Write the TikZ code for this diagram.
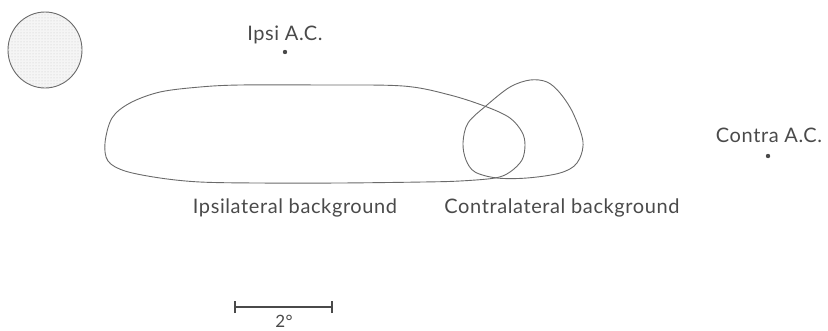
\documentclass[tikz,border=0pt]{standalone}
\usepackage{fontspec}
\setmainfont{Lato}[LetterSpace=3]
\usetikzlibrary{patterns}
\definecolor{ink}{HTML}{6A6A6A}
\definecolor{txt}{HTML}{4A4A4A}
\tikzset{
  outline/.style={draw=ink, line width=0.9pt},
  lbl/.style={text=txt, font=\fontsize{20}{23}\selectfont, inner sep=0pt},
  acdot/.style={circle, fill=txt, inner sep=0pt, minimum size=4.4pt},
  bar/.style={draw=txt, line width=1.3pt}
}
\begin{document}
\begin{tikzpicture}[x=1pt,y=-1pt]
\useasboundingbox (0,0) rectangle (828,330);
% stippled field
\path[fill=gray!8] (45,50) ellipse [x radius=37, y radius=38];
\path[pattern=dots, pattern color=gray!45] (45,50) ellipse [x radius=37, y radius=38];
\draw[outline] (45,50) ellipse [x radius=37, y radius=38];
% ipsilateral background
\draw[outline] plot[smooth cycle, tension=0.55] coordinates {
 (105,143) (112,118) (130,103) (160,92) (200,87) (240,85) (320,85) (403,86)
 (450,95) (487,107) (510,118) (522,132) (525,145) (522,160) (510,172)
 (495,178) (460,181) (423,182) (340,183) (257,183) (200,182) (160,178)
 (125,171) (108,161)};
% contralateral background
\draw[outline] plot[smooth cycle, tension=0.55] coordinates {
 (530,80) (547,82) (560,93) (573,113) (583,142) (577,163) (560,173)
 (527,178) (497,178) (475,172) (466,160) (463,143) (468,123) (487,105) (510,87)};
% A.C. points
\node[acdot] (ipsidot) at (285,52) {};
\node[lbl] (ipsi) at (285,35) {Ipsi A.C.};
\node[acdot] (contradot) at (768,156) {};
\node[lbl] (contra) at (769,135) {Contra A.C.};
% labels
\node[lbl] (ipsibg) at (295,208) {Ipsilateral background};
\node[lbl] (contrabg) at (562,208) {Contralateral background};
% scale bar
\coordinate (sa) at (235,307);
\coordinate (sb) at (332,307);
\draw[bar] (sa) -- (sb);
\draw[bar] ([yshift=-6pt]sa) -- ([yshift=6pt]sa);
\draw[bar] ([yshift=-6pt]sb) -- ([yshift=6pt]sb);
\node[lbl, font=\fontsize{17}{20}\selectfont, anchor=base] (deg) at (284,327) {2°};
\end{tikzpicture}
\end{document}
